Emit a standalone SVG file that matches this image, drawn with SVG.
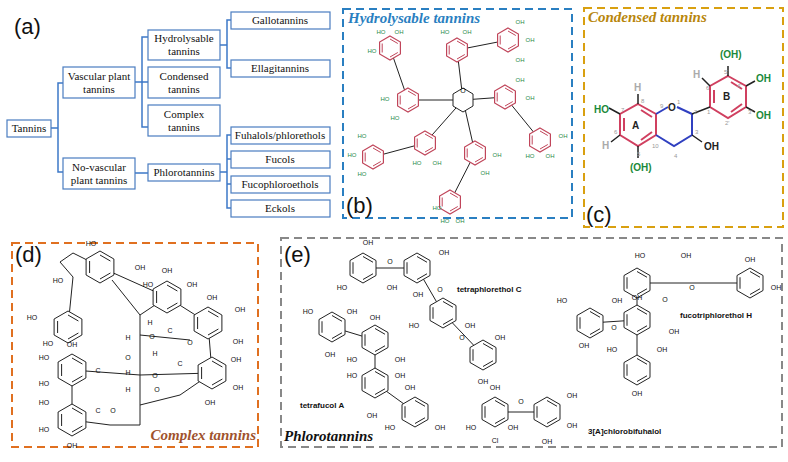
<svg xmlns="http://www.w3.org/2000/svg" xmlns:xlink="http://www.w3.org/1999/xlink" width="788" height="462" viewBox="0 0 788 462">
<style>
.bx{fill:#fff;stroke:#4a7cc0;stroke-width:1.2}
.br{fill:none;stroke:#3c78c8;stroke-width:1.5}
.t{font-family:"Liberation Serif",serif;font-size:11px;fill:#111;text-anchor:middle}
.pl{font-family:"Liberation Sans",sans-serif;font-size:22px;fill:#111}
.tt{font-family:"Liberation Serif",serif;font-size:15px;font-weight:bold;font-style:italic}
.oh{font-family:"Liberation Sans",sans-serif;font-size:7px;fill:#111;text-anchor:middle}
.ohg{font-family:"Liberation Sans",sans-serif;font-size:6px;fill:#2a8a4a;text-anchor:middle}
.nm{font-family:"Liberation Sans",sans-serif;font-size:8px;font-weight:bold;fill:#111}
.bd{stroke:#222;stroke-width:1;fill:none}
</style>
<defs>
<g id="h11"><path d="M0,-12 10.4,-6 10.4,6 0,12 -10.4,6 -10.4,-6Z" fill="#fff" stroke="#c0455a" stroke-width="1.2"/><path d="M0,-9 7.8,-4.5 M7.8,4.5 0,9 M-7.8,4.5 -7.8,-4.5" stroke="#c0455a" stroke-width="1"/></g>
<g id="h13"><path d="M0,-15 13,-7.5 13,7.5 0,15 -13,7.5 -13,-7.5Z" fill="#fff" stroke="#222" stroke-width="1"/><path d="M0,-11.5 10,-5.75 M10,5.75 0,11.5 M-10,5.75 -10,-5.75" stroke="#222" stroke-width="1"/></g>
<g id="h15"><path d="M0,-16 13.9,-8 13.9,8 0,16 -13.9,8 -13.9,-8Z" fill="#fff" stroke="#222" stroke-width="1"/><path d="M0,-12 10.4,-6 M10.4,6 0,12 M-10.4,6 -10.4,-6" stroke="#222" stroke-width="1"/></g>
</defs>
<rect width="788" height="462" fill="#fff"/>

<text class="pl" x="14" y="34">(a)</text>
<g id="connectors">
<path class="br" d="M51,128H58 M63,83H58V172H63 M135,82H142 M148,37H142V127H148 M142,82H148 M220,45H227 M231,20H227V68H231 M135,173H148 M220,172H227 M231,135H227V208H231 M227,159H231 M227,184H231"/>
</g>
<g id="n-tannins"><rect class="bx" x="7" y="120" width="44" height="17"/><text class="t" x="29" y="132">Tannins</text></g>
<g id="n-vascular"><rect class="bx" x="63" y="67" width="72" height="31"/><text class="t" x="99" y="80">Vascular plant</text><text class="t" x="99" y="93">tannins</text></g>
<g id="n-novascular"><rect class="bx" x="63" y="158" width="72" height="31"/><text class="t" x="99" y="171">No-vascular</text><text class="t" x="99" y="184">plant tannins</text></g>
<g id="n-hydro"><rect class="bx" x="148" y="30" width="72" height="30"/><text class="t" x="184" y="42">Hydrolysable</text><text class="t" x="184" y="55">tannins</text></g>
<g id="n-condensed"><rect class="bx" x="148" y="67" width="72" height="31"/><text class="t" x="184" y="80">Condensed</text><text class="t" x="184" y="93">tannins</text></g>
<g id="n-complex"><rect class="bx" x="148" y="105" width="72" height="31"/><text class="t" x="184" y="118">Complex</text><text class="t" x="184" y="131">tannins</text></g>
<g id="n-phloro"><rect class="bx" x="148" y="164" width="72" height="17"/><text class="t" x="184" y="176">Phlorotannins</text></g>
<g id="n-gallo"><rect class="bx" x="231" y="12" width="99" height="17"/><text class="t" x="280" y="24">Gallotannins</text></g>
<g id="n-ellagi"><rect class="bx" x="231" y="60" width="99" height="17"/><text class="t" x="280" y="72">Ellagitannins</text></g>
<g id="n-fuhalols"><rect class="bx" x="231" y="127" width="99" height="17"/><text class="t" x="280" y="139">Fuhalols/phlorethols</text></g>
<g id="n-fucols"><rect class="bx" x="231" y="151" width="99" height="17"/><text class="t" x="280" y="163">Fucols</text></g>
<g id="n-fucophloro"><rect class="bx" x="231" y="176" width="99" height="17"/><text class="t" x="280" y="188">Fucophloroethols</text></g>
<g id="n-eckols"><rect class="bx" x="231" y="200" width="99" height="17"/><text class="t" x="280" y="212">Eckols</text></g>

<g id="panel-b">
<rect x="343" y="9" width="229" height="209" fill="none" stroke="#2a7fc1" stroke-width="2" stroke-dasharray="8,5"/>
<text class="tt" x="348" y="23" fill="#2a7fc1">Hydrolysable tannins</text>
<path class="bd" d="M390,48L408,100L463,100L457,50L508,40 M463,100L505,97L540,140 M463,100L425,143L373,157 M463,100L475,153L450,202"/>
<path d="M463,88 473,94 473,106 463,112 453,106 453,94Z" fill="#fff" stroke="#222"/>
<text class="oh" x="463" y="93" font-size="6">O</text>
<use href="#h11" x="390" y="48"/><use href="#h11" x="457" y="50"/><use href="#h11" x="508" y="40"/>
<use href="#h11" x="408" y="100"/><use href="#h11" x="505" y="97"/><use href="#h11" x="540" y="140"/>
<use href="#h11" x="373" y="157"/><use href="#h11" x="425" y="143"/><use href="#h11" x="475" y="153"/><use href="#h11" x="450" y="202"/>
<g class="ohg"><text x="381" y="34">HO</text><text x="399" y="34">OH</text><text x="372" y="53">HO</text>
<text x="445" y="34">HO</text><text x="467" y="34">OH</text><text x="520" y="24">OH</text><text x="530" y="42">OH</text><text x="520" y="62">OH</text>
<text x="385" y="101">HO</text><text x="395" y="120">HO</text><text x="520" y="82">OH</text><text x="530" y="100">OH</text>
<text x="563" y="138">OH</text><text x="530" y="158">HO</text><text x="550" y="158">OH</text>
<text x="362" y="138">HO</text><text x="352" y="157">HO</text><text x="362" y="176">HO</text><text x="417" y="165">HO</text><text x="437" y="165">OH</text>
<text x="497" y="157">OH</text><text x="485" y="175">OH</text><text x="437" y="210">HO</text><text x="445" y="223">HO</text><text x="460" y="223">OH</text></g>
<text class="pl" x="346" y="213">(b)</text>
</g>

<g id="panel-c">
<rect x="584" y="8" width="199" height="219" fill="none" stroke="#d9a010" stroke-width="2" stroke-dasharray="8,5"/>
<text class="tt" x="588" y="22" fill="#b8860b">Condensed tannins</text>
<path d="M638,104 656,114 656,135 638,146 620,135 620,114Z M641,110 652,117 M652,132 641,140 M624,131 624,118" fill="none" stroke="#d04060" stroke-width="2"/>
<path d="M656,114 668,107 M677,107 692,114 692,135 674,146 656,135" fill="none" stroke="#3040c0" stroke-width="2"/>
<path d="M728,76 746,86 746,107 728,118 710,107 710,86Z M731,82 742,89 M742,104 731,112 M714,103 714,90" fill="none" stroke="#d04060" stroke-width="2"/>
<path d="M692,114 710,107 M692,135 702,142 M638,104 638,94 M620,114 609,108 M620,135 611,142 M638,146 638,158 M710,86 702,78 M728,76 728,66 M746,86 755,81 M746,107 755,112" stroke="#222" stroke-width="1.5" fill="none"/>
<g font-family="Liberation Sans,sans-serif" font-weight="bold" font-size="10">
<text x="672" y="111" text-anchor="middle" fill="#222">O</text>
<text x="632" y="129" fill="#222">A</text><text x="723" y="100" fill="#222">B</text>
<text x="704" y="150" fill="#222">OH</text>
<text x="594" y="113" fill="#1a8a3a">HO</text>
<text x="630" y="171" fill="#1a8a3a">(OH)</text>
<text x="720" y="58" fill="#1a8a3a">(OH)</text>
<text x="756" y="82" fill="#1a8a3a">OH</text>
<text x="756" y="119" fill="#1a8a3a">OH</text>
<text x="634" y="91" fill="#aaa">H</text><text x="602" y="149" fill="#aaa">H</text><text x="693" y="78" fill="#aaa">H</text>
</g>
<g font-family="Liberation Sans,sans-serif" font-size="6" fill="#999">
<text x="660" y="108">9</text><text x="641" y="103">8</text><text x="621" y="112">7</text><text x="614" y="134">6</text><text x="637" y="156">5</text><text x="652" y="148">10</text>
<text x="677" y="104">1</text><text x="694" y="114">2</text><text x="695" y="134">3</text><text x="674" y="158">4</text>
<text x="707" y="114">1</text><text x="706" y="90">6</text><text x="725" y="125">2'</text><text x="748" y="114">3'</text><text x="737" y="88">4'</text><text x="724" y="74">5'</text>
</g>
<text class="pl" x="586" y="222">(c)</text>
</g>

<g id="panel-d">
<rect x="12" y="243" width="246" height="204" fill="none" stroke="#e07020" stroke-width="2" stroke-dasharray="8,5"/>
<text class="pl" x="15" y="262">(d)</text>
<path class="bd" d="M100,267L167,297L208,323L212,373 M68,327L73,277 M112,280L140,315L167,297 M140,315V425L110,425L72,420 M140,335L190,340 M72,370L140,375L212,373 M140,405L180,395L212,373 M72,370L72,420"/>
<path class="bd" d="M73,277 60,262 73,253 87,260"/>
<use href="#h15" x="100" y="267"/><use href="#h15" x="68" y="327"/><use href="#h15" x="167" y="297"/>
<use href="#h15" x="208" y="323"/><use href="#h15" x="212" y="373"/><use href="#h15" x="72" y="370"/><use href="#h15" x="72" y="420"/>
<g class="oh"><text x="91" y="246">HO</text><text x="140" y="270">OH</text><text x="58" y="283">HO</text><text x="32" y="320">HO</text><text x="48" y="346">HO</text>
<text x="167" y="273">OH</text><text x="148" y="287">HO</text><text x="192" y="287">OH</text><text x="212" y="300">OH</text><text x="240" y="312">OH</text><text x="238" y="344">OH</text>
<text x="236" y="362">OH</text><text x="238" y="390">OH</text><text x="210" y="405">OH</text>
<text x="72" y="347">OH</text><text x="44" y="360">HO</text><text x="44" y="386">HO</text><text x="44" y="405">HO</text><text x="44" y="432">HO</text><text x="72" y="448">OH</text>
<text x="128" y="340">H</text><text x="152" y="339">O</text><text x="170" y="333">C</text><text x="190" y="345">O</text>
<text x="128" y="360">O</text><text x="155" y="356">H</text><text x="128" y="375">H</text><text x="155" y="378">O</text><text x="180" y="366">C</text><text x="128" y="392">H</text><text x="157" y="392">O</text><text x="150" y="325">H</text><text x="98" y="413">C</text><text x="113" y="413">O</text><text x="98" y="373">C</text></g>
<text class="tt" x="256" y="440" fill="#a0522d" text-anchor="end">Complex tannins</text>
</g>

<g id="panel-e">
<rect x="281" y="238" width="501" height="209" fill="none" stroke="#888" stroke-width="2" stroke-dasharray="8,5"/>
<text class="pl" x="284" y="262">(e)</text>
<path class="bd" d="M363,268L417,268L443,313L483,355 M332,327L375,340L375,383L415,412 M495,412L547,412 M637,283L750,283 M637,283L637,320L590,323 M637,320L637,370"/>
<use href="#h13" x="363" y="268"/><use href="#h13" x="417" y="268"/><use href="#h13" x="443" y="313"/><use href="#h13" x="483" y="355"/>
<use href="#h13" x="332" y="327"/><use href="#h13" x="375" y="340"/><use href="#h13" x="375" y="383"/><use href="#h13" x="415" y="412"/>
<use href="#h13" x="495" y="412"/><use href="#h13" x="547" y="412"/>
<use href="#h13" x="637" y="283"/><use href="#h13" x="750" y="283"/><use href="#h13" x="590" y="323"/><use href="#h13" x="637" y="320"/><use href="#h13" x="637" y="370"/>
<g class="oh"><text x="368" y="245">OH</text><text x="342" y="290">HO</text><text x="392" y="290">OH</text><text x="390" y="264">O</text><text x="444" y="255">OH</text><text x="418" y="297">OH</text><text x="440" y="292">O</text>
<text x="414" y="328">HO</text><text x="470" y="328">OH</text><text x="462" y="340">O</text><text x="500" y="340">OH</text><text x="483" y="384">OH</text>
<text x="308" y="314">HO</text><text x="352" y="314">OH</text><text x="375" y="320">OH</text><text x="330" y="357">OH</text><text x="352" y="362">HO</text><text x="400" y="362">OH</text>
<text x="352" y="378">HO</text><text x="400" y="378">OH</text><text x="410" y="390">OH</text><text x="372" y="418">OH</text><text x="390" y="430">HO</text><text x="440" y="430">OH</text>
<text x="495" y="390">OH</text><text x="471" y="430">HO</text><text x="513" y="430">OH</text><text x="495" y="443">Cl</text><text x="521" y="404">O</text>
<text x="572" y="398">OH</text><text x="572" y="428">OH</text><text x="547" y="444">OH</text>
<text x="640" y="258">HO</text><text x="686" y="258">OH</text><text x="692" y="290">O</text><text x="750" y="262">OH</text><text x="776" y="290">OH</text>
<text x="562" y="303">HO</text><text x="617" y="303">OH</text><text x="637" y="300">OH</text><text x="665" y="302">O</text><text x="614" y="330">O</text>
<text x="674" y="334">OH</text><text x="584" y="348">OH</text><text x="612" y="352">HO</text><text x="662" y="352">OH</text><text x="637" y="396">OH</text></g>
<text class="nm" x="457" y="292">tetraphlorethol C</text>
<text class="nm" x="300" y="408">tetrafucol A</text>
<text class="nm" x="588" y="434">3[A]chlorobifuhalol</text>
<text class="nm" x="680" y="318">fucotriphlorethol H</text>
<text class="tt" x="284" y="441" fill="#111">Phlorotannins</text>
</g>
</svg>
